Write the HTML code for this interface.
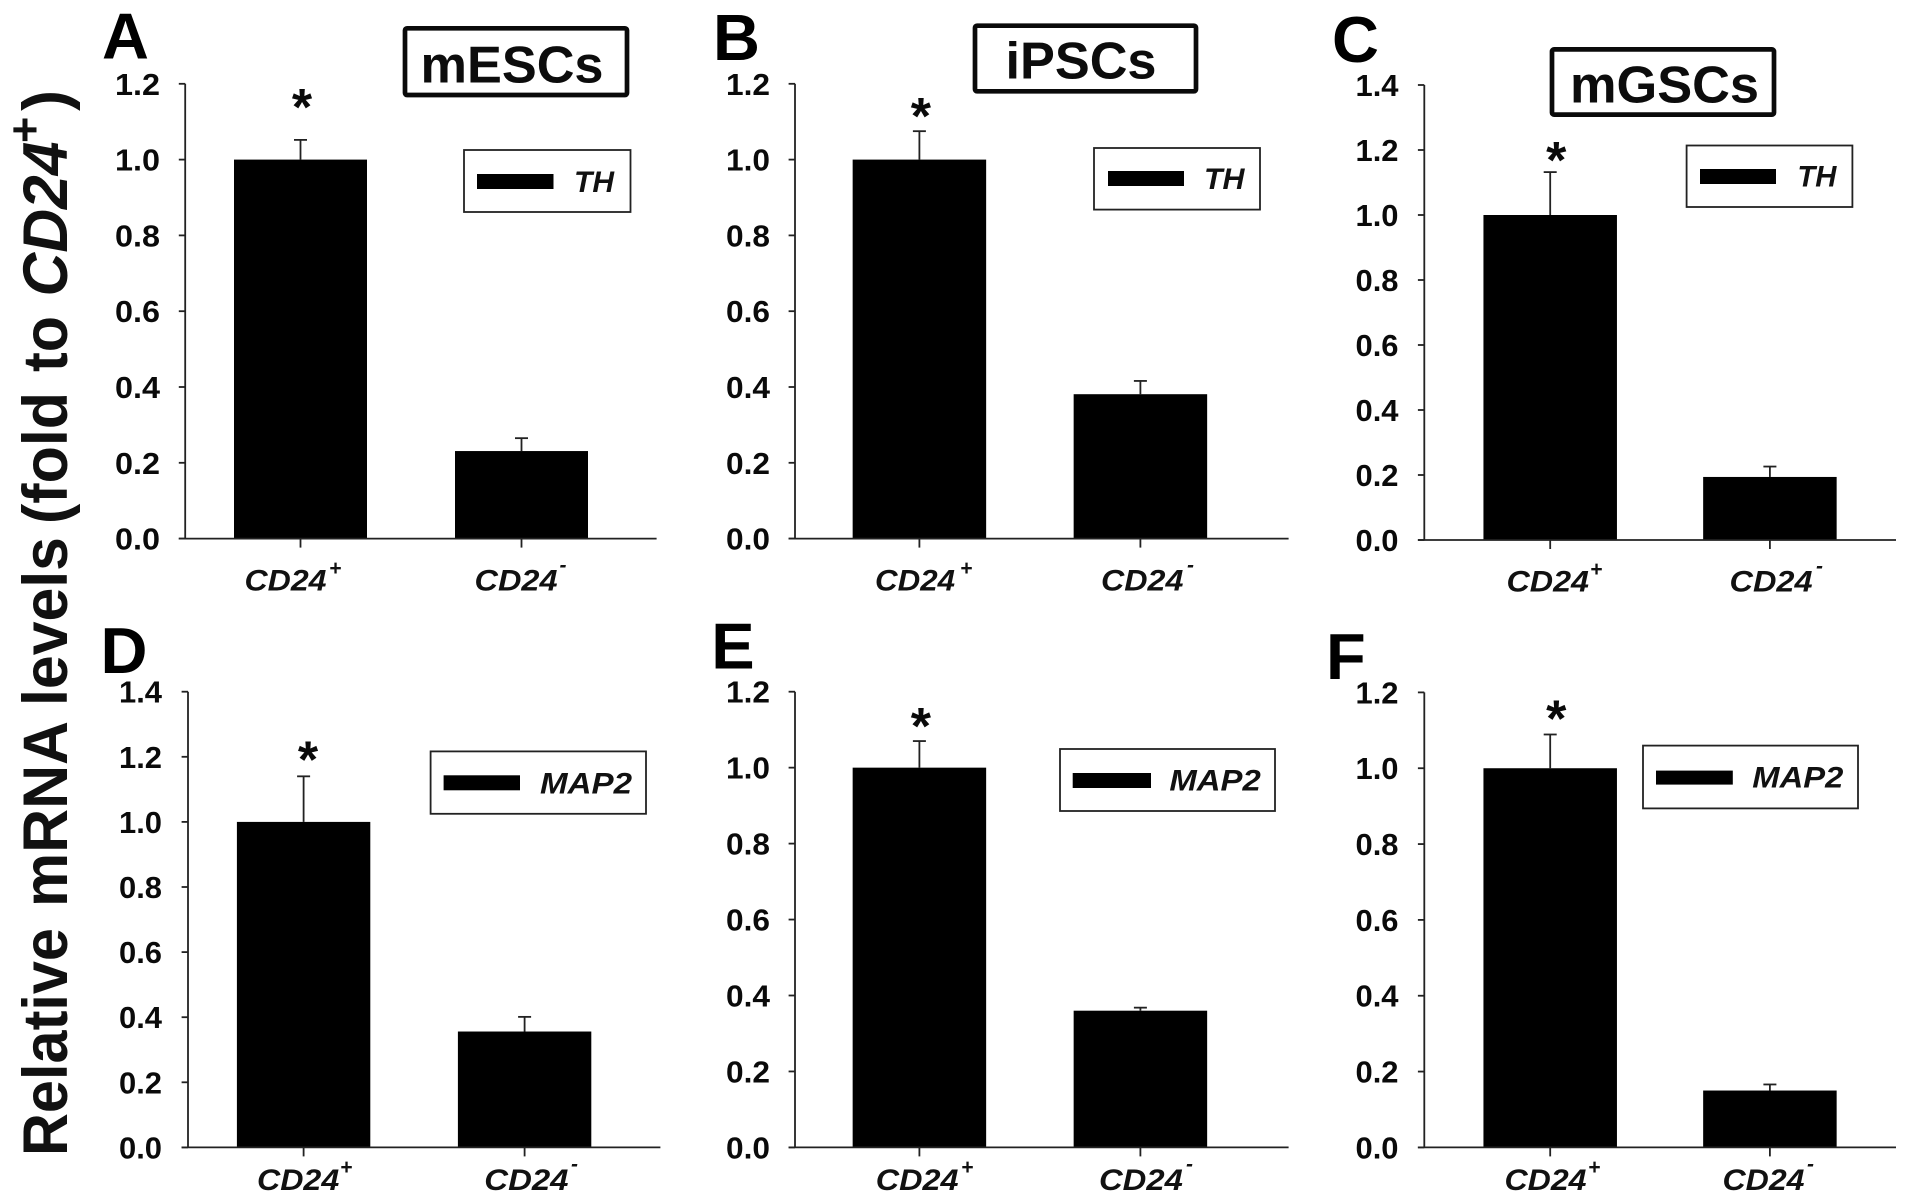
<!DOCTYPE html>
<html lang="en">
<head>
<meta charset="utf-8">
<title>Relative mRNA levels in CD24+ and CD24- cells</title>
<style>
  html, body { margin: 0; padding: 0; background: #fff; }
  #figure { display: block; width: 1913px; height: 1204px; }
  text { font-family: "Liberation Sans", Arial, sans-serif; font-weight: bold; fill: #0a0a0a; }
  .letter { font-size: 65px; fill: #000; }
  .ytitle { font-size: 63px; fill: #111; }
  .ttl { font-size: 52px; fill: #0c0c0c; }
  .lg { font-size: 30px; font-style: italic; fill: #111; }
  .cat { font-size: 30px; font-style: italic; fill: #111; }
  .sup { font-size: 21px; font-style: italic; fill: #111; }
  .titlebox { fill: #fff; stroke: #0a0a0a; stroke-width: 4.7; }
  .legendbox { fill: #fff; stroke: #222; stroke-width: 1.8; }
</style>
</head>
<body>
<svg id="figure" xmlns="http://www.w3.org/2000/svg" width="1913" height="1204" viewBox="0 0 1913 1204">
  <rect x="0" y="0" width="1913" height="1204" fill="#fff"/>

  <g>
    <text class="ytitle" transform="translate(67 1156) rotate(-90)" textLength="228" lengthAdjust="spacingAndGlyphs">Relative</text>
    <text class="ytitle" transform="translate(67 907) rotate(-90)" textLength="186" lengthAdjust="spacingAndGlyphs">mRNA</text>
    <text class="ytitle" transform="translate(67 706) rotate(-90)" textLength="169" lengthAdjust="spacingAndGlyphs">levels</text>
    <text class="ytitle" transform="translate(67 524) rotate(-90)" textLength="132" lengthAdjust="spacingAndGlyphs">(fold</text>
    <text class="ytitle" transform="translate(67 372) rotate(-90)" textLength="56" lengthAdjust="spacingAndGlyphs">to</text>
    <text class="ytitle" transform="translate(67 296.5) rotate(-90)" textLength="155" lengthAdjust="spacingAndGlyphs" style="font-style:italic">CD24</text>
    <text class="ytitle" transform="translate(40 143) rotate(-90)" style="font-size:45px">+</text>
    <text class="ytitle" transform="translate(67 111) rotate(-90)" textLength="21" lengthAdjust="spacingAndGlyphs">)</text>
  </g>

  <g>
    <text class="letter" x="102" y="58.5">A</text>
    <text class="letter" x="713" y="60">B</text>
    <text class="letter" x="1332" y="62">C</text>
    <text class="letter" x="100.5" y="673">D</text>
    <text class="letter" x="711.3" y="668.6">E</text>
    <text class="letter" x="1326" y="679">F</text>
  </g>

  <g>
    <rect class="titlebox" x="405" y="28.3" width="222" height="66.7" rx="2"/>
    <text class="ttl" x="420.5" y="82.7" textLength="183" lengthAdjust="spacingAndGlyphs">mESCs</text>
    <rect class="titlebox" x="975" y="25.7" width="221" height="65.6" rx="2"/>
    <text class="ttl" x="1005.5" y="78.7" textLength="151" lengthAdjust="spacingAndGlyphs">iPSCs</text>
    <rect class="titlebox" x="1552" y="49.4" width="222" height="65.2" rx="2"/>
    <text class="ttl" x="1570" y="102.7" textLength="189" lengthAdjust="spacingAndGlyphs">mGSCs</text>
  </g>

  <g>
    <g>
      <rect class="legendbox" x="464" y="150" width="166.5" height="62"/>
      <rect x="477" y="174" width="76.5" height="15" fill="#000"/>
      <text class="lg" x="574" y="192" textLength="40" lengthAdjust="spacingAndGlyphs">TH</text>
    </g>
    <g>
      <rect class="legendbox" x="1094" y="148" width="166" height="61.6"/>
      <rect x="1108" y="171" width="76" height="15" fill="#000"/>
      <text class="lg" x="1204" y="189" textLength="40.5" lengthAdjust="spacingAndGlyphs">TH</text>
    </g>
    <g>
      <rect class="legendbox" x="1686.6" y="145.5" width="165.8" height="61.5"/>
      <rect x="1700" y="169" width="76" height="15" fill="#000"/>
      <text class="lg" x="1797.4" y="186.6" textLength="39" lengthAdjust="spacingAndGlyphs">TH</text>
    </g>
    <g>
      <rect class="legendbox" x="430.6" y="751.4" width="215.4" height="62.4"/>
      <rect x="443.6" y="775.3" width="76.4" height="15" fill="#000"/>
      <text class="lg" x="540" y="793.4" textLength="92" lengthAdjust="spacingAndGlyphs">MAP2</text>
    </g>
    <g>
      <rect class="legendbox" x="1060" y="749" width="215" height="62"/>
      <rect x="1072.7" y="773" width="78.3" height="15" fill="#000"/>
      <text class="lg" x="1169.4" y="790.3" textLength="91.4" lengthAdjust="spacingAndGlyphs">MAP2</text>
    </g>
    <g>
      <rect class="legendbox" x="1643" y="745.6" width="215" height="62.8"/>
      <rect x="1656" y="770.6" width="76.8" height="14" fill="#000"/>
      <text class="lg" x="1752.3" y="787.6" textLength="91" lengthAdjust="spacingAndGlyphs">MAP2</text>
    </g>
  </g>

  <g>
    <text class="cat" x="244.5" y="590.7" textLength="82" lengthAdjust="spacingAndGlyphs">CD24</text>
    <text class="sup" x="329" y="575">+</text>
    <text class="cat" x="474.5" y="590.7" textLength="83" lengthAdjust="spacingAndGlyphs">CD24</text>
    <text class="sup" x="559.5" y="572">-</text>

    <text class="cat" x="875" y="590.7" textLength="80" lengthAdjust="spacingAndGlyphs">CD24</text>
    <text class="sup" x="960" y="575">+</text>
    <text class="cat" x="1101" y="590.7" textLength="82.4" lengthAdjust="spacingAndGlyphs">CD24</text>
    <text class="sup" x="1187" y="572">-</text>

    <text class="cat" x="1506.5" y="591.7" textLength="82.5" lengthAdjust="spacingAndGlyphs">CD24</text>
    <text class="sup" x="1590" y="576">+</text>
    <text class="cat" x="1729.5" y="591.7" textLength="83" lengthAdjust="spacingAndGlyphs">CD24</text>
    <text class="sup" x="1816" y="573">-</text>

    <text class="cat" x="257" y="1190" textLength="82.2" lengthAdjust="spacingAndGlyphs">CD24</text>
    <text class="sup" x="340" y="1174">+</text>
    <text class="cat" x="484.3" y="1190" textLength="84.2" lengthAdjust="spacingAndGlyphs">CD24</text>
    <text class="sup" x="571" y="1171">-</text>

    <text class="cat" x="875.8" y="1190" textLength="82.7" lengthAdjust="spacingAndGlyphs">CD24</text>
    <text class="sup" x="961" y="1174">+</text>
    <text class="cat" x="1099" y="1190" textLength="83.8" lengthAdjust="spacingAndGlyphs">CD24</text>
    <text class="sup" x="1186" y="1171">-</text>

    <text class="cat" x="1504.5" y="1190" textLength="82" lengthAdjust="spacingAndGlyphs">CD24</text>
    <text class="sup" x="1588" y="1174">+</text>
    <text class="cat" x="1722.5" y="1190" textLength="82" lengthAdjust="spacingAndGlyphs">CD24</text>
    <text class="sup" x="1807" y="1171">-</text>
  </g>

  <g id="plots"></g>
</svg>

<script>
// ---- chart data ----
const panelIds = ['a', 'b', 'c', 'd', 'e', 'f'];
const categories = ['CD24+', 'CD24-'];
const ticksTo12 = [0.0, 0.2, 0.4, 0.6, 0.8, 1.0, 1.2];
const ticksTo14 = [0.0, 0.2, 0.4, 0.6, 0.8, 1.0, 1.2, 1.4];

const valuesA = [1.0, 0.231];
const errorsA = [0.052, 0.034];
const valuesB = [1.0, 0.381];
const errorsB = [0.075, 0.035];
const valuesC = [1.0, 0.194];
const errorsC = [0.132, 0.032];
const valuesD = [1.0, 0.356];
const errorsD = [0.14, 0.045];
const valuesE = [1.0, 0.36];
const errorsE = [0.07, 0.008];
const valuesF = [1.0, 0.15];
const errorsF = [0.089, 0.016];

const seriesValues = [valuesA, valuesB, valuesC, valuesD, valuesE, valuesF];
const seriesErrors = [errorsA, errorsB, errorsC, errorsD, errorsE, errorsF];
const panelTicks = [ticksTo12, ticksTo12, ticksTo14, ticksTo14, ticksTo12, ticksTo12];
const significant = ['CD24+'];

// ---- panel geometry ----
const frames = [
  { left: 185.2, right: 656.6, top: 83.8,  bottom: 538.6,  center: 300.5,  step: 221,   barW: 133, labelRight: 160,    labelW: 45, starGap: 27, starDx: 1.5 },
  { left: 795,   right: 1288.6, top: 83.8, bottom: 538.6,  center: 919.4,  step: 221,   barW: 133.5, labelRight: 770,  labelW: 44, starGap: 9, starDx: 1.5 },
  { left: 1424.3, right: 1896, top: 85,    bottom: 540,    center: 1550.2, step: 219.7, barW: 133.5, labelRight: 1398.5, labelW: 43, starGap: 6, starDx: 6 },
  { left: 188,   right: 660.4, top: 691.7, bottom: 1147.4, center: 303.6,  step: 221,   barW: 133.4, labelRight: 162,  labelW: 43, starGap: 11, starDx: 4.4 },
  { left: 795,   right: 1288.6, top: 691.7, bottom: 1147.4, center: 919.4, step: 221,   barW: 133.5, labelRight: 770,  labelW: 44, starGap: 9, starDx: 1.5 },
  { left: 1424.3, right: 1896, top: 692.4, bottom: 1147.4, center: 1550.2, step: 219.7, barW: 133.5, labelRight: 1398.5, labelW: 43, starGap: 10, starDx: 6 }
];

const SVG_NS = 'http://www.w3.org/2000/svg';
const INK = '#222';
const root = document.getElementById('plots');

function make(tag, parent, props) {
  const el = document.createElementNS(SVG_NS, tag);
  Object.keys(props).forEach(function (k) { el.setAttribute(k, props[k]); });
  parent.appendChild(el);
  return el;
}

panelIds.forEach(function (id, p) {
  const f = frames[p];
  const ticks = panelTicks[p];
  const values = seriesValues[p];
  const errors = seriesErrors[p];
  const yMax = ticks[ticks.length - 1];
  const yScale = function (v) { return f.bottom - (v / yMax) * (f.bottom - f.top); };
  const xScale = function (i) { return f.center + i * f.step; };

  const g = make('g', root, {});
  
  

  values.forEach(function (v, i) {
    const cx = xScale(i);
    const errTop = yScale(v + errors[i]);

    const stem = make('line', g, { x1: cx, x2: cx, y1: yScale(v), y2: errTop, stroke: INK, 'stroke-width': 1.8 });
    
    

    const cap = make('line', g, { x1: cx - 6.5, x2: cx + 6.5, y1: errTop, y2: errTop, stroke: INK, 'stroke-width': 1.8 });
    
    

    const bar = make('rect', g, { x: cx - f.barW / 2, y: yScale(v), width: f.barW, height: f.bottom - yScale(v), fill: '#000' });
    
    

    const tickX = make('line', g, { x1: cx, x2: cx, y1: f.bottom, y2: f.bottom + 9, stroke: INK, 'stroke-width': 1.8 });
    
    

    if (significant.indexOf(categories[i]) !== -1) {
      const star = make('text', g, { x: cx + f.starDx, y: errTop - f.starGap + 12, 'text-anchor': 'middle', 'font-size': 52 });
      star.textContent = '*';
      
      
    }
  });

  const yAxis = make('line', g, { x1: f.left, x2: f.left, y1: f.top, y2: f.bottom, stroke: INK, 'stroke-width': 1.8 });
  
  

  const xAxis = make('line', g, { x1: f.left - 6.4, x2: f.right, y1: f.bottom, y2: f.bottom, stroke: INK, 'stroke-width': 1.8 });
  
  

  ticks.forEach(function (t) {
    const y = yScale(t);
    const tick = make('line', g, { x1: f.left - 6.4, x2: f.left, y1: y, y2: y, stroke: INK, 'stroke-width': 1.8 });
    
    

    const label = make('text', g, { x: f.labelRight - f.labelW, y: y + 11, 'font-size': 31, textLength: f.labelW, lengthAdjust: 'spacingAndGlyphs' });
    label.textContent = t.toFixed(1);
    
    
  });
});
</script>
</body>
</html>
